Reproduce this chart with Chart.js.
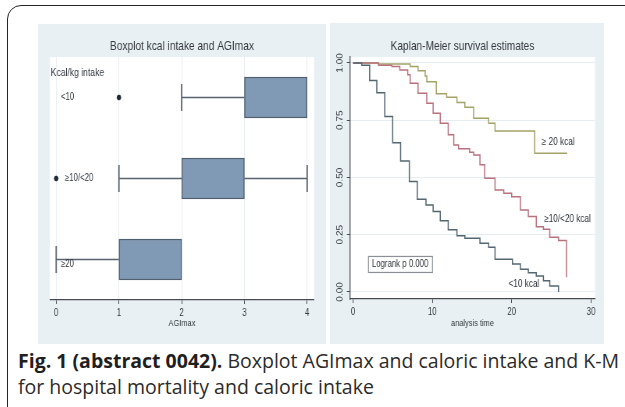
<!DOCTYPE html>
<html>
<head>
<meta charset="utf-8">
<script src="https://cdn.jsdelivr.net/npm/chart.js@4.4.1/dist/chart.umd.min.js"></script>
<style>
  html, body { margin: 0; padding: 0; background: #ffffff; }
  body { width: 625px; height: 407px; position: relative; overflow: hidden; }
  #frame {
    position: absolute; left: 7px; top: 5px; width: 640px; height: 420px;
    border: 1.5px solid #262626; border-radius: 14px; box-sizing: border-box;
  }
  canvas { position: absolute; background: #e9f0f4; }
  #boxCanvas { left: 38px; top: 24px; }
  #kmCanvas { left: 330px; top: 23px; }
  #caption {
    position: absolute; left: 18px; top: 348px; width: 610px;
    font-family: "Open Sans", "Noto Sans", sans-serif; font-size: 19.5px;
    line-height: 26px; color: #2b2b2b; white-space: nowrap;
  }
  #caption b { font-weight: 700; color: #1f1f1f; }
</style>
</head>
<body>
<div id="frame"></div>
<!-- the figure panels are drawn wider and shown narrower, giving the condensed lettering -->
<canvas id="boxCanvas" width="369" height="320" style="width:288px;height:320px"></canvas>
<canvas id="kmCanvas" width="351" height="321" style="width:274px;height:321px"></canvas>
<div id="caption"><b>Fig. 1 (abstract 0042).</b> Boxplot AGImax and caloric intake and K-M<br>for hospital mortality and caloric intake</div>

<script>
// ---- Boxplot: AGImax by caloric intake group ----
const intakeGroups = ['<10', '≥10/<20', '≥20'];
const q1Values = [3, 2, 1];
const q3Values = [4, 3, 2];
const lowerWhisker = [2, 1, 0];
const upperWhisker = [4, 4, 2];
const outlierValues = [[1], [0], []];
const agiTicks = [0, 1, 2, 3, 4];

// ---- Kaplan-Meier curves: analysis time vs. survival ----
const kmTicksX = [0, 10, 20, 30];
const kmTicksY = [0, 0.25, 0.5, 0.75, 1];

const timeLow = [0, 1.1, 2.1, 3.0, 4.0, 5.0, 6.0, 7.1, 8.1, 9.2, 10.1, 11.0, 12.0, 13.1, 14.1, 16.0, 17.1, 17.9, 20.1, 21.1, 22.1, 23.1, 24.0, 24.8, 25.9];
const survLow = [1, 0.99, 0.923, 0.87, 0.766, 0.652, 0.572, 0.482, 0.405, 0.38, 0.351, 0.311, 0.271, 0.245, 0.234, 0.213, 0.195, 0.143, 0.122, 0.099, 0.084, 0.07, 0.049, 0.026, 0.0];

const timeMid = [0, 3.2, 4.9, 5.9, 6.9, 7.2, 8.2, 9.3, 10.1, 11.0, 12.0, 12.7, 13.3, 14.7, 15.2, 16.0, 16.6, 17.9, 19.0, 20.0, 21.1, 22.1, 23.1, 24.0, 24.8, 25.9, 26.9];
const survMid = [1, 0.99, 0.984, 0.969, 0.948, 0.911, 0.868, 0.824, 0.78, 0.737, 0.686, 0.642, 0.625, 0.61, 0.598, 0.555, 0.496, 0.445, 0.431, 0.416, 0.358, 0.329, 0.285, 0.274, 0.239, 0.224, 0.064];

const timeHigh = [0, 3.2, 7.2, 8.2, 9.1, 9.3, 10.5, 11.8, 13.1, 14.1, 15.2, 17.1, 17.9, 22.9, 27.0];
const survHigh = [1, 0.995, 0.984, 0.966, 0.943, 0.918, 0.865, 0.85, 0.827, 0.806, 0.758, 0.737, 0.703, 0.606, 0.606];

const curveLabels = ['<10 kcal', '≥10/<20 kcal', '≥ 20 kcal'];
const logrankText = 'Logrank p 0.000';

// horizontal drawing scale of the panel canvases (drawn width / shown width)
const SX = 369 / 288;

const sans = '"Liberation Sans", Arimo, Arial, sans-serif';
const axisInk = '#474c52';
const textInk = '#32373d';
const gridInk = '#e6edf1';

// white plot region behind the data
const plotFill = {
  id: 'plotFill',
  beforeDraw(chart) {
    const a = chart.chartArea, ctx = chart.ctx;
    ctx.save();
    ctx.fillStyle = '#ffffff';
    ctx.fillRect(a.left, a.top, a.right - a.left, a.bottom - a.top);
    ctx.restore();
  }
};

const toPoints = (xs, ys) => xs.map((x, i) => ({ x: x, y: ys[i] }));

// ---------- Boxplot chart ----------
const boxDatasets = [];
boxDatasets.push({
  type: 'bar',
  data: intakeGroups.map((g, i) => [q1Values[i], q3Values[i]]),
  backgroundColor: '#8099b5',
  borderColor: '#4f5f70',
  borderWidth: 1.5,
  borderSkipped: false,
  barThickness: 41,
  order: 2
});
intakeGroups.forEach((g, i) => {
  const segs = [];
  if (lowerWhisker[i] < q1Values[i]) segs.push([lowerWhisker[i], q1Values[i]]);
  if (upperWhisker[i] > q3Values[i]) segs.push([q3Values[i], upperWhisker[i]]);
  segs.forEach(s => {
    boxDatasets.push({
      type: 'line',
      data: [{ x: s[0], y: g }, { x: s[1], y: g }],
      borderColor: '#59636d', borderWidth: 1.4,
      pointRadius: 0, order: 1
    });
  });
  const caps = [];
  if (lowerWhisker[i] < q1Values[i]) caps.push({ x: lowerWhisker[i], y: g });
  if (upperWhisker[i] > q3Values[i]) caps.push({ x: upperWhisker[i], y: g });
  if (caps.length) {
    boxDatasets.push({
      type: 'scatter',
      data: caps,
      pointStyle: 'line', rotation: 90, pointRadius: 13.5,
      borderColor: '#59636d', pointBorderWidth: 1.8,
      order: 0
    });
  }
  if (outlierValues[i].length) {
    boxDatasets.push({
      type: 'scatter',
      data: outlierValues[i].map(v => ({ x: v, y: g })),
      pointStyle: 'circle', pointRadius: 2.4,
      backgroundColor: '#1f2a36', borderColor: '#1f2a36',
      order: 0
    });
  }
});

// group heading and group names written inside the plot region
const groupLabels = {
  id: 'groupLabels',
  afterDraw(chart) {
    const ctx = chart.ctx, a = chart.chartArea, ys = chart.scales.y;
    ctx.save();
    ctx.fillStyle = textInk;
    ctx.textBaseline = 'middle';
    ctx.font = '11px ' + sans;
    ctx.fillText('Kcal/kg intake', a.left + 1, a.top + 16);
    ctx.font = '10px ' + sans;
    intakeGroups.forEach((g, i) => {
      const dx = i === 1 ? 15 : 11;
      const dy = i === 2 ? 5 : 0;
      ctx.fillText(g, a.left + dx * SX, ys.getPixelForValue(i) + dy);
    });
    ctx.restore();
  }
};

new Chart(document.getElementById('boxCanvas'), {
  data: { labels: intakeGroups, datasets: boxDatasets },
  options: {
    indexAxis: 'y',
    responsive: false, animation: false, events: [],
    devicePixelRatio: 1,
    layout: { padding: { left: 9 * SX, right: 9 * SX, top: 0, bottom: 0 } },
    plugins: {
      legend: { display: false }, tooltip: { enabled: false },
      title: {
        display: true, text: 'Boxplot kcal intake and AGImax',
        color: textInk, font: { family: sans, size: 13, weight: 'normal' },
        padding: { top: 15, bottom: 2.4 }
      }
    },
    scales: {
      x: {
        type: 'linear', min: -0.1, max: 4.11,
        afterBuildTicks: s => { s.ticks = agiTicks.map(v => ({ value: v })); },
        afterFit: s => { s.height = 44; },
        grid: { color: gridInk, tickColor: axisInk, tickLength: 4, drawOnChartArea: true },
        border: { color: axisInk, width: 1.3 },
        ticks: { color: textInk, font: { family: sans, size: 10 }, padding: 3 },
        title: { display: true, text: 'AGImax', color: textInk, font: { family: sans, size: 9.5 }, padding: { top: 0, bottom: 15 } }
      },
      y: {
        type: 'category', labels: intakeGroups,
        afterFit: s => { s.width = 0; },
        grid: { display: false }, border: { display: false },
        ticks: { display: false }
      }
    }
  },
  plugins: [plotFill, groupLabels]
});

// ---------- Kaplan-Meier chart ----------
const kmOverlay = {
  id: 'kmOverlay',
  afterDraw(chart) {
    const ctx = chart.ctx, xs = chart.scales.x, ys = chart.scales.y;
    ctx.save();
    // rotated y tick labels
    ctx.font = '10px ' + sans;
    ctx.fillStyle = textInk;
    ctx.textAlign = 'center';
    ctx.textBaseline = 'middle';
    kmTicksY.forEach(v => {
      ctx.save();
      ctx.translate(xs.left - 10 * SX, ys.getPixelForValue(v));
      ctx.rotate(-Math.PI / 2);
      ctx.fillText(v.toFixed(2), 0, 0);
      ctx.restore();
    });
    // curve labels
    ctx.font = '10.5px ' + sans;
    ctx.textAlign = 'left';
    ctx.fillStyle = '#2e3338';
    ctx.fillText(curveLabels[2], xs.getPixelForValue(23.8), ys.getPixelForValue(0.655));
    ctx.fillText(curveLabels[1], xs.getPixelForValue(24.1), ys.getPixelForValue(0.32));
    ctx.fillText(curveLabels[0], xs.getPixelForValue(19.6), ys.getPixelForValue(0.035));
    // log-rank box
    const bx = xs.getPixelForValue(1.9), by = ys.getPixelForValue(0.157);
    const bw = 64 * SX, bh = 16;
    ctx.fillStyle = '#ffffff';
    ctx.strokeStyle = '#8a9096';
    ctx.lineWidth = 1.2;
    ctx.fillRect(bx, by, bw, bh);
    ctx.strokeRect(bx + 0.5, by + 0.5, bw, bh);
    ctx.font = '10px ' + sans;
    ctx.fillStyle = '#2e3338';
    ctx.textAlign = 'center';
    ctx.fillText(logrankText, bx + bw / 2, by + bh / 2 + 0.5);
    ctx.restore();
  }
};

const curveStyle = (color) => ({
  type: 'line', stepped: 'before', borderColor: color, borderWidth: 1.5,
  pointRadius: 0, fill: false
});

new Chart(document.getElementById('kmCanvas'), {
  type: 'line',
  data: {
    datasets: [
      Object.assign({ data: toPoints(timeLow, survLow) }, curveStyle('#52676f')),
      Object.assign({ data: toPoints(timeMid, survMid) }, curveStyle('#b8717d')),
      Object.assign({ data: toPoints(timeHigh, survHigh) }, curveStyle('#a3a267'))
    ]
  },
  options: {
    responsive: false, animation: false, events: [],
    devicePixelRatio: 1,
    layout: { padding: { left: 0, right: 9 * SX, top: 0, bottom: 0 } },
    plugins: {
      legend: { display: false }, tooltip: { enabled: false },
      title: {
        display: true, text: 'Kaplan-Meier survival estimates',
        color: textInk, font: { family: sans, size: 13, weight: 'normal' },
        padding: { top: 16, bottom: 2.4 }
      }
    },
    scales: {
      x: {
        type: 'linear', min: -0.38, max: 30.5,
        afterBuildTicks: s => { s.ticks = kmTicksX.map(v => ({ value: v })); },
        afterFit: s => { s.height = 45; },
        grid: { drawOnChartArea: false, tickColor: axisInk, tickLength: 4 },
        border: { color: axisInk, width: 1.3 },
        ticks: { color: textInk, font: { family: sans, size: 10 }, padding: 3 },
        title: { display: true, text: 'analysis time', color: textInk, font: { family: sans, size: 9.5 }, padding: { top: 0, bottom: 15 } }
      },
      y: {
        type: 'linear', min: -0.031, max: 1.026,
        afterBuildTicks: s => { s.ticks = kmTicksY.map(v => ({ value: v })); },
        afterFit: s => { s.width = 20 * SX; },
        grid: { color: gridInk, tickColor: axisInk, tickLength: 4 },
        border: { color: axisInk, width: 1.3 },
        ticks: { display: false }
      }
    }
  },
  plugins: [plotFill, kmOverlay]
});
</script>
</body>
</html>
